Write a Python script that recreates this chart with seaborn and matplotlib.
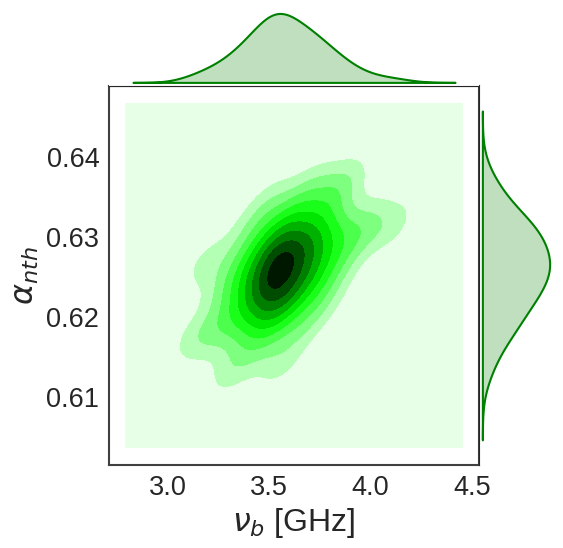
import colorsys
import numpy as np
import pandas as pd
import matplotlib
matplotlib.use('Agg')
import matplotlib.pyplot as plt
import seaborn as sns
from seaborn._statistics import KDE

# posterior samples
nu_b = [3.135, 3.190, 3.245, 3.282, 3.312, 3.336, 3.357, 3.376, 3.395, 3.410,
        3.426, 3.439, 3.453, 3.464, 3.476, 3.485, 3.496, 3.506, 3.517, 3.527,
        3.536, 3.546, 3.555, 3.565, 3.574, 3.556, 3.565, 3.575, 3.584, 3.594,
        3.633, 3.643, 3.654, 3.664, 3.675, 3.685, 3.696, 3.707, 3.721, 3.734,
        3.750, 3.765, 3.785, 3.805, 3.826, 3.850, 3.880, 3.915, 3.990, 4.110]
alpha_nth = [0.6175, 0.6267, 0.6180, 0.6236, 0.6132, 0.6212, 0.6268, 0.6181, 0.6239, 0.6310,
             0.6211, 0.6264, 0.6165, 0.6235, 0.6292, 0.6204, 0.6259, 0.6345, 0.6230, 0.6283,
             0.6190, 0.6253, 0.6314, 0.6223, 0.6276, 0.6142, 0.6248, 0.6302, 0.6212, 0.6271,
             0.6337, 0.6242, 0.6294, 0.6189, 0.6266, 0.6321, 0.6233, 0.6289, 0.6366, 0.6261,
             0.6314, 0.6220, 0.6287, 0.6346, 0.6258, 0.6314, 0.6372, 0.6292, 0.6320, 0.6315]

x_label = r'$\nu_b$ [GHz]'
y_label = r'$\alpha_{nth}$'

sns.set_style('white')
plt.rcParams['font.family'] = ['Liberation Sans', 'DejaVu Sans']
plt.rcParams['mathtext.fontset'] = 'dejavusans'

samples = pd.DataFrame({'nu_b': nu_b, 'alpha_nth': alpha_nth})

# old jointplot look: white -> green -> black ramp
shades = [colorsys.hls_to_rgb(1 / 3, l, 1.0) for l in np.linspace(1, 0, 12)]
cmap = sns.blend_palette(shades, as_cmap=True)

g = sns.JointGrid(data=samples, x='nu_b', y='alpha_nth', height=5.5, ratio=5, space=0)

# bivariate density on seaborn's grid, shaded with evenly spaced density levels
kde = KDE(bw_adjust=0.85, cut=3.8, gridsize=100)
density, (xx, yy) = kde(samples['nu_b'], samples['alpha_nth'])
levels = np.linspace(0, density.max() * 1.04, 11)
g.ax_joint.contourf(xx, yy, density, levels=levels, cmap=cmap)

g.plot_marginals(sns.kdeplot, color='g', fill=True, linewidth=1.5, cut=3.3)

# bring back the default 5% axis margins
for ax in [g.ax_joint, g.ax_marg_x, g.ax_marg_y]:
    ax.use_sticky_edges = False
    ax.autoscale_view()

g.ax_joint.set_xlabel(x_label, fontsize=23)
g.ax_joint.set_ylabel(y_label, fontsize=23)
g.ax_joint.tick_params(labelsize=19.5)
for side in ['top', 'right', 'left', 'bottom']:
    g.ax_joint.spines[side].set_visible(True)
    g.ax_joint.spines[side].set_color('.25')
    g.ax_joint.spines[side].set_linewidth(1.5)

fig = g.figure
fig.set_size_inches(5.63, 5.48)
fig.subplots_adjust(left=109 / 563, right=553 / 563, bottom=1 - 465 / 548, top=1 - 10 / 548,
                    wspace=0, hspace=0)
fig.savefig('out.png', dpi=100)
